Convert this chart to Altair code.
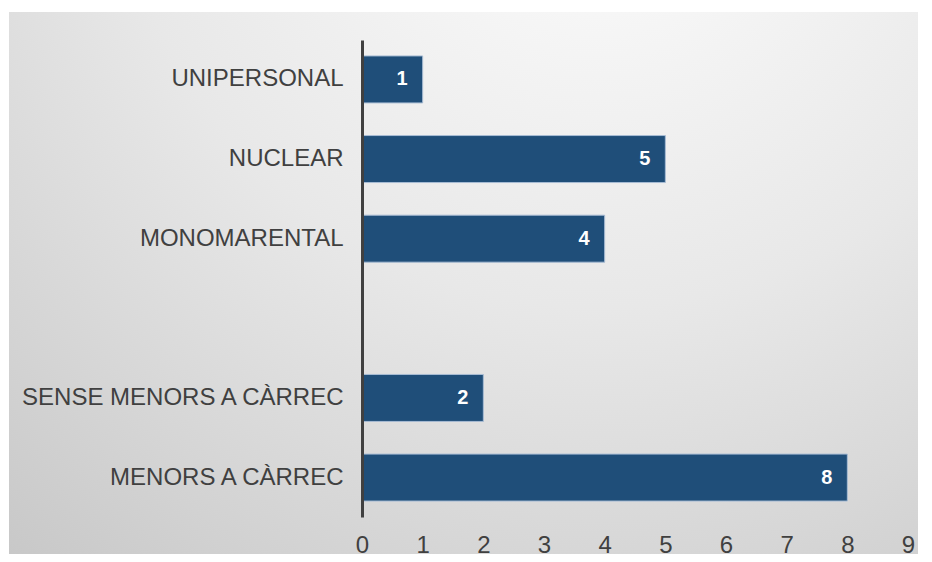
import altair as alt
import pandas as pd

categories = ["UNIPERSONAL", "NUCLEAR", "MONOMARENTAL", "SENSE MENORS A CÀRREC", "MENORS A CÀRREC"]
values = [1, 5, 4, 2, 8]
domain_order = ["UNIPERSONAL", "NUCLEAR", "MONOMARENTAL", " ", "SENSE MENORS A CÀRREC", "MENORS A CÀRREC"]
x_ticks = [0, 1, 2, 3, 4, 5, 6, 7, 8, 9]

df = pd.DataFrame({"cat": categories, "val": values})

W, H = 546, 477
FONT = "Liberation Sans"

bg = alt.Chart(pd.DataFrame({"a": [0]})).mark_rect(
    color=alt.Gradient(
        gradient="radial",
        stops=[alt.GradientStop(offset=0, color="#ffffff"),
               alt.GradientStop(offset=0.5, color="#e8e8e8"),
               alt.GradientStop(offset=1, color="#c6c6c6")],
        x1=0.64, y1=0.0, r1=0.0, x2=0.64, y2=0.0, r2=1.05,
    )
).encode(
    x=alt.value(-353), x2=alt.value(568),
    y=alt.value(-28), y2=alt.value(516),
)

y_enc = alt.Y("cat:N", scale=alt.Scale(domain=domain_order, paddingInner=0.41, paddingOuter=0.2),
              axis=alt.Axis(title=None, ticks=False, domain=True, domainColor="#404040", domainWidth=3,
                            labelFont=FONT, labelFontSize=24, labelColor="#404040", labelPadding=19,
                            labelLimit=400, zindex=1))
x_enc = alt.X("val:Q", scale=alt.Scale(domain=[0, 9], nice=False),
              axis=alt.Axis(title=None, values=x_ticks, ticks=False, domain=False, grid=False,
                            labelFont=FONT, labelFontSize=24, labelColor="#404040", labelPadding=35,
                            labelBaseline="alphabetic", labelFlush=False, format="d", zindex=1))

bars = alt.Chart(df).mark_bar(color="#1F4E79", stroke="#a8bcd4", strokeWidth=1).encode(
    x=x_enc, y=y_enc
)

labels = alt.Chart(df).mark_text(
    align="right", baseline="middle", dx=-15, color="white", font=FONT, fontSize=20, fontWeight="bold"
).encode(x="val:Q", y=alt.Y("cat:N", scale=alt.Scale(domain=domain_order)), text="val:Q")

chart = alt.layer(bg, bars, labels).properties(
    width=W, height=H,
    autosize=alt.AutoSizeParams(type="none"),
    padding={"left": 354, "top": 32, "right": 10, "bottom": 37},
).configure_view(stroke=None).configure(background="white")

chart.save("out.html", embed_options={"renderer": "svg", "actions": False})
